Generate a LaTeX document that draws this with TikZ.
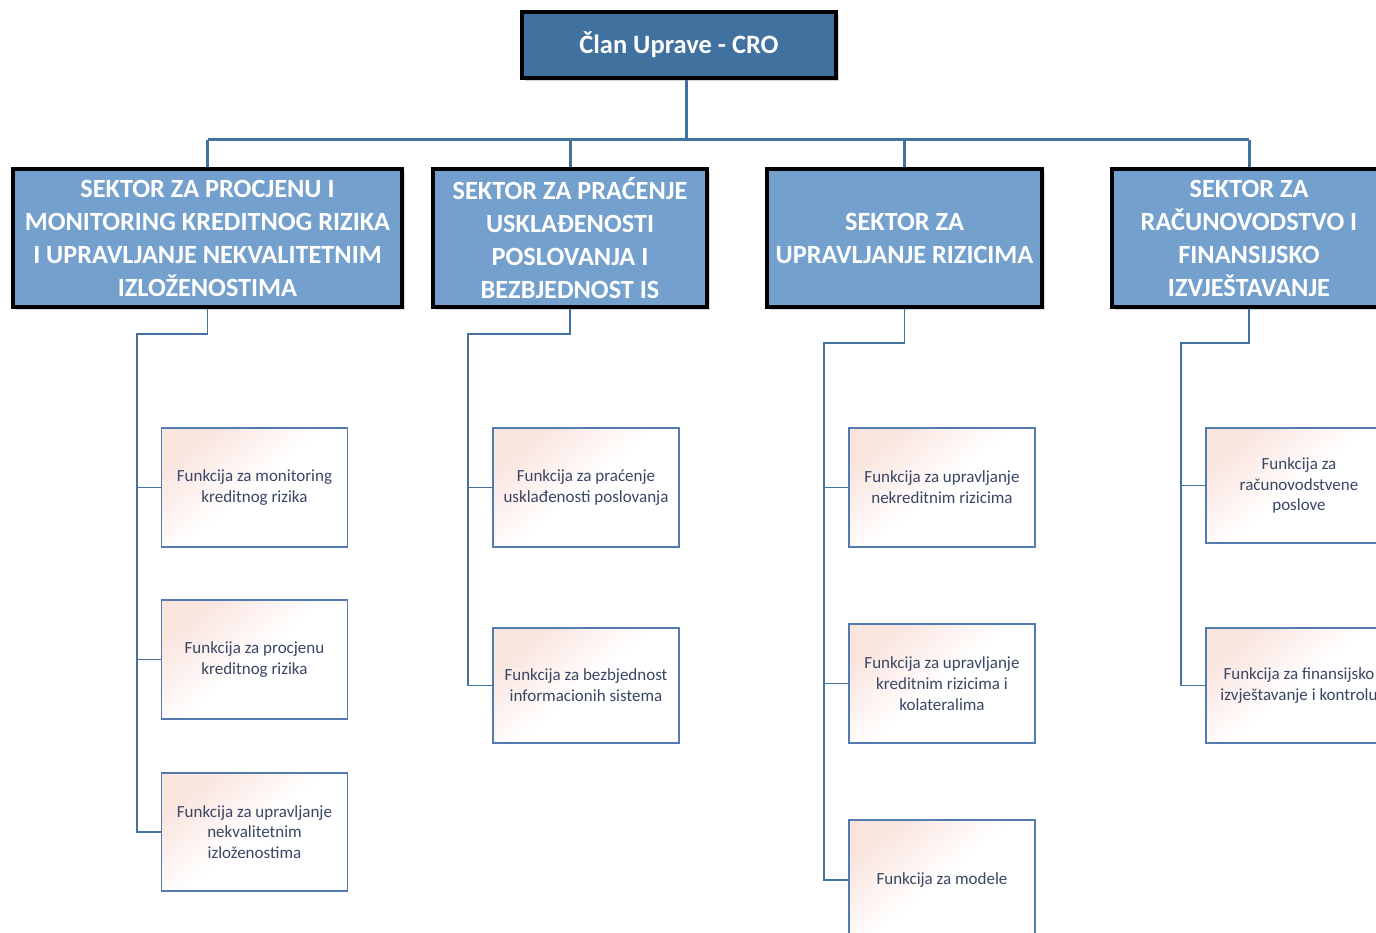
\documentclass[tikz,border=0pt]{standalone}
\usepackage{fontspec}
\setmainfont{Carlito}
\usetikzlibrary{shadows}
\definecolor{topfill}{RGB}{65,113,158}
\definecolor{secfill}{RGB}{116,160,206}
\definecolor{conn}{RGB}{65,113,156}
\definecolor{fborder}{RGB}{84,122,178}
\definecolor{ftext}{RGB}{58,70,102}
\definecolor{pk}{RGB}{250,228,222}
\tikzset{
  topbox/.style={draw=black, line width=4pt, fill=topfill, text=white,
    minimum width=314, minimum height=66, inner sep=0pt,
    font=\fontsize{26.5}{30}\selectfont\bfseries,
    drop shadow={shadow xshift=3pt, shadow yshift=-3pt, opacity=0.35}},
  secbox/.style={draw=black, line width=4.5pt, fill=secfill, text=white,
    minimum height=138, inner sep=0pt, align=center,
    font=\fontsize{26.3}{33}\selectfont\bfseries,
    drop shadow={shadow xshift=3pt, shadow yshift=-3pt, opacity=0.3}},
  funbox/.style={draw=fborder, line width=1.2pt, top color=pk, bottom color=white,
    middle color=white, shading angle=40,
    minimum width=186, inner sep=0pt, align=center, text=ftext,
    font=\fontsize{17}{20.7}\selectfont},
  bus/.style={draw=conn, line width=3pt},
  link/.style={draw=conn, line width=1.4pt},
}
\begin{document}
\begin{tikzpicture}[x=1pt,y=-1pt]
\useasboundingbox (0,0) rectangle (1376,933);
\clip (0,0) rectangle (1376,933);
\fill[white] (0,0) rectangle (1376,933);

\coordinate (bus) at (686,140);
\coordinate (busL) at (207.5,140);
\coordinate (busR) at (1249,140);

% connectors (behind)
\draw[bus] ([xshift=7pt]679,78) coordinate (topout) -- (bus);
\draw[bus] (busL) -- (busR);

\node[topbox] (top) at (679,45) {Član Uprave - CRO};

\node[secbox, minimum width=389] (s1) at (207.5,238) {SEKTOR ZA PROCJENU I\\MONITORING KREDITNOG RIZIKA\\I UPRAVLJANJE NEKVALITETNIM\\IZLOŽENOSTIMA};
\node[secbox, minimum width=274] (s2) at (570,238) {SEKTOR ZA PRAĆENJE\\USKLAĐENOSTI\\POSLOVANJA I\\BEZBJEDNOST IS};
\node[secbox, minimum width=275] (s3) at (904.5,238) {SEKTOR ZA\\UPRAVLJANJE RIZICIMA};
\node[secbox, minimum width=274] (s4) at (1249,238) {SEKTOR ZA\\RAČUNOVODSTVO I\\FINANSIJSKO\\IZVJEŠTAVANJE};

\foreach \s in {s1,s2,s3,s4} {\draw[bus] (\s.north) -- (\s.north |- bus);}

% function boxes
\node[funbox, minimum height=119] (c11) at (254.5,487.5) {Funkcija za monitoring\\kreditnog rizika};
\node[funbox, minimum height=119] (c12) at (254.5,659.5) {Funkcija za procjenu\\kreditnog rizika};
\node[funbox, minimum height=118] (c13) at (254.5,832) {Funkcija za upravljanje\\nekvalitetnim\\izloženostima};

\node[funbox, minimum height=119] (c21) at (586,487.5) {Funkcija za praćenje\\usklađenosti poslovanja};
\node[funbox, minimum height=115] (c22) at (586,685.5) {Funkcija za bezbjednost\\informacionih sistema};

\node[funbox, minimum height=119] (c31) at (942,487.5) {Funkcija za upravljanje\\nekreditnim rizicima};
\node[funbox, minimum height=119] (c32) at (942,683.5) {Funkcija za upravljanje\\kreditnim rizicima i\\kolateralima};
\node[funbox, minimum height=120] (c33) at (942,880) {Funkcija za modele};

\node[funbox, minimum height=115] (c41) at (1299,485.5) {Funkcija za\\računovodstvene\\poslove};
\node[funbox, minimum height=115] (c42) at (1299,685.5) {Funkcija za finansijsko\\izvještavanje i kontrolu};

% drop connectors
\coordinate (t1) at (137,334);
\coordinate (t2) at (468,334);
\coordinate (t3) at (824,343);
\coordinate (t4) at (1181,343);
\draw[link] (s1.south) |- (t1) |- (c13.west);
\draw[link] (t1 |- c11.west) -- (c11.west);
\draw[link] (t1 |- c12.west) -- (c12.west);
\draw[link] (s2.south) |- (t2) |- (c22.west);
\draw[link] (t2 |- c21.west) -- (c21.west);
\draw[link] (s3.south) |- (t3) |- (c33.west);
\draw[link] (t3 |- c31.west) -- (c31.west);
\draw[link] (t3 |- c32.west) -- (c32.west);
\draw[link] (s4.south) |- (t4) |- (c42.west);
\draw[link] (t4 |- c41.west) -- (c41.west);
\end{tikzpicture}
\end{document}
